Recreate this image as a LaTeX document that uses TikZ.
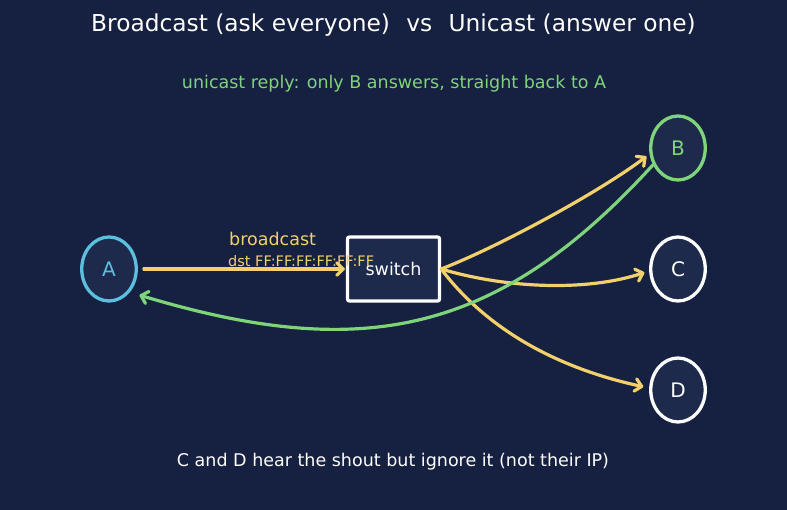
\documentclass[tikz,border=0pt]{standalone}
\usepackage{fontspec}
\setmainfont{DejaVu Sans}
\usetikzlibrary{arrows.meta,shapes.geometric}
\definecolor{bg}{HTML}{162040}
\definecolor{nodefill}{HTML}{1E2A4C}
\definecolor{ylw}{HTML}{F2D06B}
\definecolor{grn}{HTML}{7ED47A}
\definecolor{cyn}{HTML}{5BC0DE}
\begin{document}
\begin{tikzpicture}[x=1pt,y=-1pt,
  host/.style={ellipse, draw, line width=3.3pt, fill=nodefill, minimum width=54.5pt, minimum height=64pt, inner sep=0pt, font=\fontsize{20}{20}\selectfont},
  swbox/.style={rectangle, draw=white, line width=3.3pt, fill=nodefill, minimum width=92pt, minimum height=64pt, rounded corners=2pt, text=white, font=\fontsize{17.5}{17.5}\selectfont},
  arr/.style={line width=3.2pt, line cap=round, -{Straight Barb[length=6.5pt,width=12.5pt,line cap=round,line join=round]}},
  lbl/.style={inner sep=0pt}]
\useasboundingbox[fill=bg] (0,0) rectangle (787,510);

\node[lbl, text=white, font=\fontsize{23.3}{23.3}\selectfont] (title) at (393.5,25.5) {Broadcast (ask everyone)\hspace{0.7em}vs\hspace{0.7em}Unicast (answer one)};
\node[lbl, text=grn, font=\fontsize{17.5}{17.5}\selectfont] (sub) at (394,84) {unicast reply: only B answers, straight back to A};
\node[lbl, text=white, font=\fontsize{17.5}{17.5}\selectfont] (foot) at (393,461.5) {C and D hear the shout but ignore it (not their IP)};

\node[host, draw=cyn, text=cyn] (A) at (109,269) {A};
\node[host, draw=grn, text=grn] (B) at (678,148) {B};
\node[host, draw=white, text=white] (C) at (678,269) {C};
\node[host, draw=white, text=white] (D) at (678,390) {D};
\node[swbox] (S) at (393.5,269) {switch};

\draw[arr, ylw, shorten <=6pt, shorten >=1pt] (A.east) -- (S.west);
\draw[arr, ylw, shorten >=4pt] (S.east) .. controls (496,248) and (598,193) .. (B.192);
\draw[arr, ylw, shorten >=5pt] (S.east) .. controls (505,288) and (585,292) .. (C.184);
\draw[arr, ylw, shorten >=6pt] (S.east) .. controls (495,340) and (575,372) .. (D.176);
\draw[arr, grn, shorten >=10pt] (B.214) .. controls (497,336) and (361,362) .. (A.312);

\node[lbl, anchor=west, text=ylw, font=\fontsize{17.5}{17.5}\selectfont] (bc) at (229,238.5) {broadcast};
\node[lbl, anchor=west, text=ylw, font=\fontsize{14.5}{14.5}\selectfont] (dst) at (228,261.5) {dst FF:FF:FF:FF:FF:FF};
\end{tikzpicture}
\end{document}
